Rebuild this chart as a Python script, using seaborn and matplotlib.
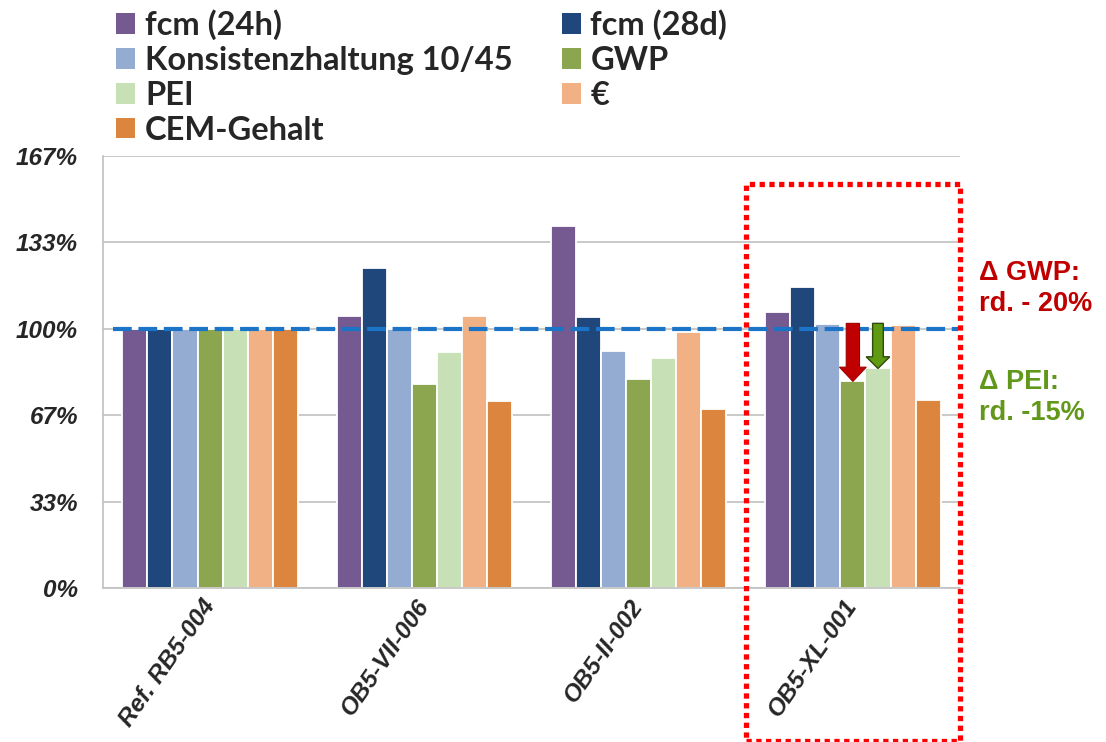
import numpy as np
import pandas as pd
import matplotlib.pyplot as plt
import seaborn as sns
from matplotlib.patches import Rectangle, Patch

# values relative to the reference mix (1.0 = 100 %)
mixes = ["Ref. RB5-004", "OB5-VII-006", "OB5-II-002", "OB5-XL-001"]
series = ["fcm (24h)", "fcm (28d)", "Konsistenzhaltung 10/45", "GWP", "PEI", "€", "CEM-Gehalt"]
fcm_24h = [1.00, 1.048, 1.395, 1.066]
fcm_28d = [1.00, 1.233, 1.045, 1.160]
konsistenz = [1.00, 1.00, 0.914, 1.018]
gwp = [1.00, 0.787, 0.806, 0.797]
pei = [1.00, 0.910, 0.887, 0.847]
kosten = [1.00, 1.048, 0.988, 1.013]
cem = [1.00, 0.723, 0.690, 0.724]
yticks = [0, 1/3, 2/3, 1, 4/3, 5/3]
ytick_labels = ["0%", "33%", "67%", "100%", "133%", "167%"]

colors = ["#745A90", "#1F477C", "#94ABD2", "#8BA64E", "#C8E0B6", "#F2B184", "#DC853F"]

df = pd.DataFrame({
    "mix": np.tile(mixes, len(series)),
    "series": np.repeat(series, len(mixes)),
    "value": fcm_24h + fcm_28d + konsistenz + gwp + pei + kosten + cem,
})

sns.set_style("white")
plt.rcParams["font.family"] = ["Lato", "DejaVu Sans"]

fig = plt.figure(figsize=(11.06, 7.42), dpi=100)
ax = fig.add_axes([103/1106, 1 - 588/742, 857/1106, 432/742])

bar_w = 0.82
sns.barplot(data=df, x="mix", y="value", hue="series", hue_order=series,
            palette=colors, saturation=1, width=bar_w, edgecolor="white",
            linewidth=1.3, legend=False, ax=ax, zorder=2)

tick_font = dict(fontsize=17.5, fontweight="bold", fontstyle="italic",
                 family=["Liberation Sans", "DejaVu Sans"])
ax.set_ylim(0, 5/3)
ax.set_xlim(-0.5, 3.5)
ax.set_yticks(yticks)
ax.set_yticklabels(ytick_labels, **tick_font)
ax.set_xticks(range(len(mixes)))
ax.set_xticklabels(mixes, rotation=55, ha="right", va="center",
                   rotation_mode="anchor", **tick_font)
ax.tick_params(axis="y", length=0, pad=18)
ax.tick_params(axis="x", length=0, pad=10)
ax.set_xlabel("")
ax.set_ylabel("")
ax.grid(axis="y", color="#C0C0C0", linewidth=1.2, zorder=0)
ax.set_axisbelow(True)
for side in ["top", "right"]:
    ax.spines[side].set_visible(False)
for side in ["left", "bottom"]:
    ax.spines[side].set_color("#C0C0C0")
    ax.spines[side].set_linewidth(1.2)

# reference line at 100 %
ax.axhline(1.0, xmin=0.012, xmax=0.998, color="#1C74C6", linewidth=3,
           dashes=(4.5, 1.6), zorder=4)

# arrows on GWP and PEI of the last mix
step = bar_w / len(series)
x_gwp = 3 + (series.index("GWP") - 3) * step
x_pei = 3 + (series.index("PEI") - 3) * step
top = 1.021
ax.arrow(x_gwp, top, 0, gwp[3] - top, width=0.062, head_width=0.125,
         head_length=0.055, length_includes_head=True, fc="#C00000",
         ec="#A00000", lw=0.8, zorder=5)
ax.arrow(x_pei, top, 0, pei[3] - top, width=0.05, head_width=0.11,
         head_length=0.045, length_includes_head=True, fc="#5F9A12",
         ec="#2E4A0E", lw=1, zorder=5)

# red dotted box around the last mix
box = Rectangle((2.5, -0.59), 1.0, 1.56 + 0.59, fill=False, edgecolor="#FF0000",
                linewidth=3.8, linestyle=(0, (1, 0.85)), clip_on=False, zorder=6)
ax.add_patch(box)

# side notes
note_font = dict(fontsize=19.5, fontweight="bold", family=["Liberation Sans", "DejaVu Sans"])
fig.text(979/1106, 1 - 273/742, "Δ GWP:", color="#C00000", va="center", **note_font)
fig.text(979/1106, 1 - 304/742, "rd. - 20%", color="#C00000", va="center", **note_font)
fig.text(979/1106, 1 - 382/742, "Δ PEI:", color="#62981A", va="center", **note_font)
fig.text(979/1106, 1 - 413/742, "rd. -15%", color="#62981A", va="center", **note_font)

# legend, two columns filled row by row
order = [0, 2, 4, 6, 1, 3, 5]
handles = [Patch(facecolor=colors[i], edgecolor="none") for i in order]
labels = [series[i] for i in order]
leg = fig.legend(handles, labels, loc="upper left", bbox_to_anchor=(87/1106, 1.027),
                 ncol=2, frameon=False, handlelength=0.58, handleheight=0.58,
                 handletextpad=0.3, columnspacing=1.5, labelspacing=0.18,
                 prop=dict(size=23.5, weight="bold"))

fig.savefig("out.png", dpi=100)
